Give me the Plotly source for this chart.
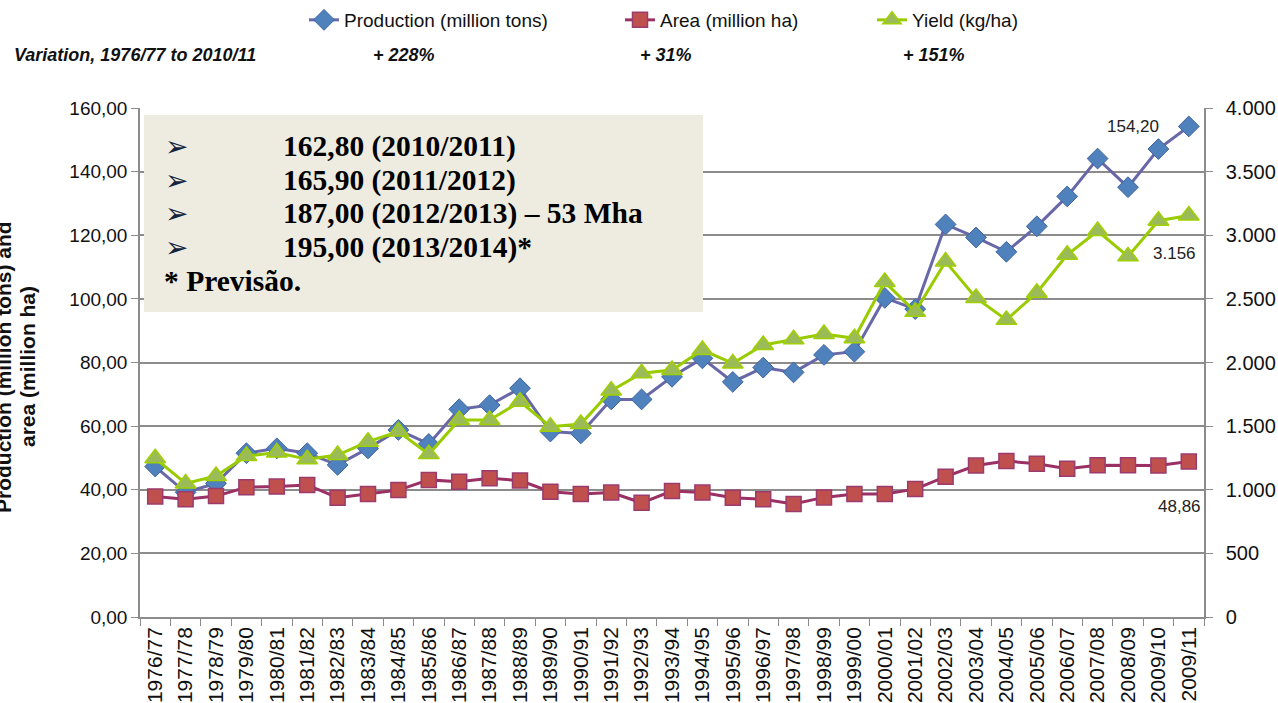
import plotly.graph_objects as go

seasons = ["1976/77", "1977/78", "1978/79", "1979/80", "1980/81", "1981/82", "1982/83",
           "1983/84", "1984/85", "1985/86", "1986/87", "1987/88", "1988/89", "1989/90",
           "1990/91", "1991/92", "1992/93", "1993/94", "1994/95", "1995/96", "1996/97",
           "1997/98", "1998/99", "1999/00", "2000/01", "2001/02", "2002/03", "2003/04",
           "2004/05", "2005/06", "2006/07", "2007/08", "2008/09", "2009/10", "2009/11"]

production = [47.3, 39.2, 42.0, 51.5, 53.0, 51.5, 47.8, 53.0, 58.8, 54.4, 65.3, 66.6,
              71.9, 58.3, 57.7, 68.4, 68.4, 75.5, 81.3, 73.9, 78.4, 76.9, 82.4, 83.4,
              100.3, 96.8, 123.4, 119.3, 114.8, 122.8, 132.2, 144.1, 135.1, 147.1, 154.20]

area = [37.9, 37.0, 38.0, 40.8, 41.0, 41.5, 37.5, 38.7, 39.9, 43.1, 42.5, 43.6,
        42.9, 39.4, 38.7, 39.1, 35.9, 39.6, 39.1, 37.5, 37.0, 35.5, 37.6, 38.7,
        38.7, 40.2, 44.1, 47.6, 49.0, 48.2, 46.6, 47.7, 47.7, 47.6, 48.86]

yield_kgha = [1247, 1050, 1108, 1265, 1292, 1239, 1273, 1378, 1457, 1280, 1548, 1548,
              1692, 1496, 1517, 1779, 1915, 1941, 2098, 1993, 2138, 2182, 2224, 2190,
              2632, 2398, 2793, 2507, 2335, 2548, 2847, 3033, 2834, 3114, 3156]

series_names = ["Production (million tons)", "Area (million ha)", "Yield (kg/ha)"]
variation_title = "Variation, 1976/77 to 2010/11"
variation_values = ["+ 228%", "+ 31%", "+ 151%"]
box_lines = ["162,80 (2010/2011)", "165,90 (2011/2012)",
             "187,00 (2012/2013) – 53 Mha", "195,00 (2013/2014)*"]
box_note = "* Previsão."
y_title_lines = ["Production (million tons) and", "area (million ha)"]

SANS = "Liberation Sans, Arial, sans-serif"
SERIF = "Liberation Serif, Times New Roman, serif"
GRID = "#8C8C8C"

# plot area in pixels (for positioning helpers)
L, R, T, B = 140, 1204, 108, 617
W, H = 1278, 703


def px_x(px):
    return (px - L) / (R - L)


def px_y(py):
    return (B - py) / (B - T)


fig = go.Figure()

fig.add_trace(go.Scatter(
    x=seasons, y=production, name=series_names[0], mode="lines+markers",
    line=dict(color="#6868A8", width=3),
    marker=dict(symbol="diamond", size=16, color="#4F81BD", line=dict(color="#3F64A0", width=1)),
    legend="legend", yaxis="y"))

fig.add_trace(go.Scatter(
    x=seasons, y=area, name=series_names[1], mode="lines+markers",
    line=dict(color="#9B3065", width=3),
    marker=dict(symbol="square", size=15, color="#C0504D", line=dict(color="#9B3A6D", width=1.5)),
    legend="legend2", yaxis="y"))

fig.add_trace(go.Scatter(
    x=seasons, y=yield_kgha, name=series_names[2], mode="lines+markers",
    line=dict(color="#99CC00", width=3),
    marker=dict(symbol="triangle-up", size=18, color="#9BBB59", line=dict(color="#A0D000", width=1.5)),
    legend="legend3", yaxis="y2"))

legend_common = dict(orientation="h", y=px_y(20), xanchor="left", yanchor="middle",
                     font=dict(family=SANS, size=19, color="#111111"),
                     bgcolor="rgba(0,0,0,0)", borderwidth=0)

annotations = []

# variation row
annotations.append(dict(text=f"<b><i>{variation_title}</i></b>", x=px_x(12), y=px_y(55),
                        xref="paper", yref="paper", xanchor="left", yanchor="middle",
                        showarrow=False, font=dict(family=SANS, size=18, color="#111111")))
for txt, cx in zip(variation_values, [404, 666, 934]):
    annotations.append(dict(text=f"<b><i>{txt}</i></b>", x=px_x(cx), y=px_y(55),
                            xref="paper", yref="paper", xanchor="center", yanchor="middle",
                            showarrow=False, font=dict(family=SANS, size=18, color="#111111")))

# left axis title (two rotated lines)
for txt, cx in zip(y_title_lines, [3, 27]):
    annotations.append(dict(text=f"<b>{txt}</b>", x=px_x(cx), y=px_y(367),
                            xref="paper", yref="paper", xanchor="center", yanchor="middle",
                            textangle=-90, showarrow=False,
                            font=dict(family=SANS, size=21, color="#111111")))

# text box content
line_ys = [146, 180, 213, 247]
for txt, ly in zip(box_lines, line_ys):
    annotations.append(dict(text="<b>➢</b>", x=px_x(163), y=px_y(ly), xref="paper", yref="paper",
                            xanchor="left", yanchor="middle", showarrow=False,
                            font=dict(family="DejaVu Sans", size=28, color="#14243F")))
    annotations.append(dict(text=f"<b>{txt}</b>", x=px_x(281), y=px_y(ly), xref="paper",
                            yref="paper", xanchor="left", yanchor="middle", showarrow=False,
                            font=dict(family=SERIF, size=29.5, color="#000000")))
annotations.append(dict(text=f"<b>{box_note}</b>", x=px_x(162), y=px_y(281), xref="paper",
                        yref="paper", xanchor="left", yanchor="middle", showarrow=False,
                        font=dict(family=SERIF, size=29.5, color="#000000")))

# data labels for the last season
lab_font = dict(family=SANS, size=17, color="#222222")
annotations.append(dict(text=f"{production[-1]:.2f}".replace(".", ","), x=seasons[-1],
                        y=production[-1], xref="x", yref="y", xanchor="right",
                        yanchor="middle", xshift=-28, yshift=0, showarrow=False, font=lab_font))
annotations.append(dict(text=f"{yield_kgha[-1]:,}".replace(",", "."), x=seasons[-1],
                        y=yield_kgha[-1], xref="x", yref="y2", xanchor="center",
                        yanchor="middle", xshift=-14, yshift=-38, showarrow=False, font=lab_font))
annotations.append(dict(text=f"{area[-1]:.2f}".replace(".", ","), x=seasons[-1],
                        y=area[-1], xref="x", yref="y", xanchor="center",
                        yanchor="middle", xshift=-9, yshift=-45, showarrow=False, font=lab_font))

shapes = [dict(type="rect", xref="paper", yref="paper", x0=px_x(144), x1=px_x(703),
               y0=px_y(312), y1=px_y(115), fillcolor="#EEECE1", line=dict(width=0),
               layer="above")]

fig.update_layout(
    width=W, height=H,
    margin=dict(l=L, r=W - R, t=T, b=H - B, autoexpand=False),
    paper_bgcolor="white", plot_bgcolor="white",
    separators=",.",
    showlegend=True,
    legend=dict(legend_common, x=px_x(304)),
    legend2=dict(legend_common, x=px_x(620)),
    legend3=dict(legend_common, x=px_x(872)),
    font=dict(family=SANS, size=18, color="#111111"),
    xaxis=dict(type="category", range=[-0.5, len(seasons) - 0.5], tickangle=-90,
               ticks="outside", tickson="boundaries", ticklen=7, tickcolor=GRID,
               showline=True, linecolor=GRID, linewidth=1.5, showgrid=False,
               tickfont=dict(family=SANS, size=21, color="#111111"), automargin=False),
    yaxis=dict(range=[0, 160], dtick=20, tickformat=".2f", ticks="outside", ticklen=7,
               tickcolor=GRID, showline=True, linecolor=GRID, linewidth=1.5,
               showgrid=True, gridcolor=GRID, gridwidth=1.5, zeroline=False,
               tickfont=dict(family=SANS, size=19, color="#111111"), automargin=False),
    yaxis2=dict(range=[0, 4000], dtick=500, tickformat=",d", overlaying="y", side="right",
                ticks="outside", ticklen=7, tickcolor=GRID, showline=True, linecolor=GRID,
                linewidth=1.5, showgrid=False, zeroline=False, ticklabelstandoff=9,
                tickfont=dict(family=SANS, size=20, color="#111111"), automargin=False),
    annotations=annotations,
    shapes=shapes,
)

fig.write_html("out.html", config={"displayModeBar": False},
               post_script="document.body.style.margin='0';")
